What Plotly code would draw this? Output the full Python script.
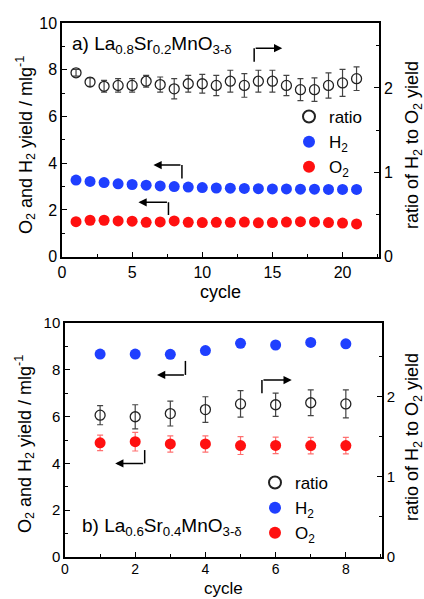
import plotly.graph_objects as go

# ---------------- data ----------------
cycles_a = list(range(1, 22))
ratio_a = [2.18, 2.07, 2.02, 2.03, 2.03, 2.08, 2.04, 1.99, 2.05, 2.05,
           2.03, 2.08, 2.03, 2.08, 2.08, 2.03, 1.98, 1.98, 2.03, 2.06, 2.11]
ratio_a_err = [0.04, 0.05, 0.07, 0.08, 0.08, 0.07, 0.09, 0.12, 0.10, 0.11,
               0.12, 0.13, 0.14, 0.13, 0.13, 0.12, 0.13, 0.14, 0.15, 0.16, 0.14]
h2_a = [3.28, 3.22, 3.17, 3.12, 3.09, 3.06, 3.03, 3.00, 2.98, 2.96, 2.94,
        2.93, 2.92, 2.91, 2.90, 2.90, 2.89, 2.89, 2.88, 2.88, 2.88]
o2_a = [1.50, 1.56, 1.56, 1.53, 1.52, 1.47, 1.49, 1.53, 1.47, 1.46, 1.47,
        1.47, 1.48, 1.45, 1.46, 1.48, 1.50, 1.49, 1.46, 1.44, 1.40]

cycles_b = [1, 2, 3, 4, 5, 6, 7, 8]
ratio_b = [1.77, 1.75, 1.79, 1.84, 1.91, 1.90, 1.925, 1.91]
ratio_b_err = [0.12, 0.15, 0.155, 0.16, 0.165, 0.145, 0.16, 0.175]
h2_b = [8.67, 8.67, 8.66, 8.82, 9.13, 9.06, 9.17, 9.11]
o2_b = [4.88, 4.93, 4.83, 4.83, 4.76, 4.77, 4.76, 4.76]
o2_b_err = [0.33, 0.40, 0.35, 0.35, 0.38, 0.35, 0.35, 0.35]

# arrow guides: (x_corner, y_start, y_corner, x_tip) in data units
arrows_a = [(13.7, 8.34, 8.92, 15.7),   # ratio -> right axis
            (8.55, 3.35, 3.92, 6.52),   # H2 -> left axis
            (7.59, 1.78, 2.33, 5.45)]   # O2 -> left axis
arrows_b = [(3.43, 8.38, 7.78, 2.62),
            (2.27, 4.57, 4.00, 1.43),
            (5.61, 7.00, 7.56, 6.46)]

FONT = "Liberation Sans"
BLUE = "#1f3fff"
RED = "#ff1010"

fig = go.Figure()

def add_panel(xa, yl, yr, cyc, ratio, rerr, h2, o2, o2err, legend):
    fig.add_trace(go.Scatter(
        x=cyc, y=ratio, xaxis=xa, yaxis=yr, mode="markers", name="ratio",
        legend=legend,
        marker=dict(symbol="circle-open", size=10, color="#222222",
                    line=dict(width=1.3)),
        error_y=dict(type="data", array=rerr, color="#444444",
                     thickness=1.2, width=3)))
    fig.add_trace(go.Scatter(
        x=cyc, y=h2, xaxis=xa, yaxis=yl, mode="markers", name="H<sub>2</sub>",
        legend=legend, marker=dict(size=11, color=BLUE)))
    kw = {}
    if o2err is not None:
        kw["error_y"] = dict(type="data", array=o2err, color="#ff7070",
                             thickness=1.2, width=3)
    fig.add_trace(go.Scatter(
        x=cyc, y=o2, xaxis=xa, yaxis=yl, mode="markers", name="O<sub>2</sub>",
        legend=legend, marker=dict(size=11, color=RED), **kw))

add_panel("x", "y", "y2", cycles_a, ratio_a, ratio_a_err, h2_a, o2_a, None, "legend")
add_panel("x2", "y3", "y4", cycles_b, ratio_b, ratio_b_err, h2_b, o2_b, o2_b_err, "legend2")

def ax_common(fs, **kw):
    d = dict(showline=True, linecolor="black", linewidth=1.5, showgrid=False,
             zeroline=False, ticks="inside", ticklen=5, tickwidth=1.3,
             tickcolor="black", tickfont=dict(family=FONT, size=fs, color="black"),
             automargin=False)
    d.update(kw)
    return d

xd_a = [62/424, 379/424]
yd_a = [(599-256.7)/599, (599-23)/599]
xd_b = [65/424, 382/424]
yd_b = [(599-557)/599, (599-323)/599]

fig.update_layout(
    width=424, height=599, margin=dict(l=0, r=0, t=0, b=0),
    paper_bgcolor="white", plot_bgcolor="white",
    font=dict(family=FONT, size=17, color="black"),
    xaxis=ax_common(16, domain=xd_a, anchor="y", range=[0, 22.6], tick0=0, dtick=5,
                    mirror=True,
                    minor=dict(ticks="inside", ticklen=3, dtick=2.5, tick0=0,
                               tickcolor="black")),
    yaxis=ax_common(16, domain=yd_a, anchor="x", range=[0, 10], tick0=0, dtick=2,
                    minor=dict(ticks="inside", ticklen=3, dtick=1, tick0=0,
                               tickcolor="black")),
    yaxis2=ax_common(16, overlaying="y", anchor="x", side="right", range=[0, 2.77],
                     tick0=0, dtick=1,
                     minor=dict(ticks="inside", ticklen=3, dtick=0.5, tick0=0,
                                tickcolor="black")),
    xaxis2=ax_common(14, domain=xd_b, anchor="y3", range=[0, 9.03], tick0=0, dtick=2,
                     mirror=True, ticklabelstandoff=-2,
                     minor=dict(ticks="inside", ticklen=3, dtick=1, tick0=0,
                                tickcolor="black")),
    yaxis3=ax_common(15, domain=yd_b, anchor="x2", range=[0, 10], tick0=0, dtick=2,
                     minor=dict(ticks="inside", ticklen=3, dtick=1, tick0=0,
                                tickcolor="black")),
    yaxis4=ax_common(15, overlaying="y3", anchor="x2", side="right", range=[0, 2.92],
                     tick0=0, dtick=1,
                     minor=dict(ticks="inside", ticklen=3, dtick=0.5, tick0=0,
                                tickcolor="black")),
    legend=dict(x=289/424, y=(599-99)/599, xanchor="left", yanchor="top",
                bgcolor="rgba(0,0,0,0)", font=dict(family=FONT, size=17),
                itemsizing="constant", tracegroupgap=0),
    legend2=dict(x=255/424, y=(599-465)/599, xanchor="left", yanchor="top",
                 bgcolor="rgba(0,0,0,0)", font=dict(family=FONT, size=17),
                 itemsizing="constant", tracegroupgap=0),
)

ann = []
# panel labels
ann.append(dict(xref="paper", yref="paper", x=70/424, y=(599-45)/599,
                xanchor="left", yanchor="middle", showarrow=False,
                text="a) La<sub>0.8</sub>Sr<sub>0.2</sub>MnO<sub>3-δ</sub>",
                font=dict(family=FONT, size=19)))
ann.append(dict(xref="paper", yref="paper", x=80/424, y=(599-527)/599,
                xanchor="left", yanchor="middle", showarrow=False,
                text="b) La<sub>0.6</sub>Sr<sub>0.4</sub>MnO<sub>3-δ</sub>",
                font=dict(family=FONT, size=19)))
# axis titles
ytitle = "O<sub>2</sub> and H<sub>2</sub> yield / mlg<sup>-1</sup>"
rtitle = "ratio of H<sub>2</sub> to O<sub>2</sub> yield"
for yc in [(599-145)/599, (599-444)/599]:
    ann.append(dict(xref="paper", yref="paper", x=25/424, y=yc, textangle=-90,
                    showarrow=False, text=ytitle, font=dict(family=FONT, size=18),
                    xanchor="center", yanchor="middle"))
for yc in [(599-145)/599, (599-437)/599]:
    ann.append(dict(xref="paper", yref="paper", x=413/424, y=yc, textangle=-90,
                    showarrow=False, text=rtitle, font=dict(family=FONT, size=18),
                    xanchor="center", yanchor="middle"))
ann.append(dict(xref="paper", yref="paper", x=(62+379)/2/424, y=(599-292)/599,
                showarrow=False, text="cycle", font=dict(family=FONT, size=18),
                xanchor="center", yanchor="middle"))
ann.append(dict(xref="paper", yref="paper", x=(65+382)/2/424, y=0,
                showarrow=False, text="cycle", font=dict(family=FONT, size=17),
                xanchor="center", yanchor="bottom", borderpad=0))

shapes = []
def add_arrows(arrs, xr, yr):
    for (xc, y0, y1, xt) in arrs:
        shapes.append(dict(type="line", xref=xr, yref=yr, x0=xc, x1=xc, y0=y0, y1=y1,
                           line=dict(color="black", width=1.5)))
        ann.append(dict(xref=xr, yref=yr, x=xt, y=y1, ax=xc, ay=y1,
                        axref=xr, ayref=yr, text="", showarrow=True,
                        arrowhead=2, arrowsize=1.1, arrowwidth=1.5,
                        arrowcolor="black"))

add_arrows(arrows_a, "x", "y")
add_arrows(arrows_b, "x2", "y3")

fig.update_layout(annotations=ann, shapes=shapes)
fig.write_html("out.html")
